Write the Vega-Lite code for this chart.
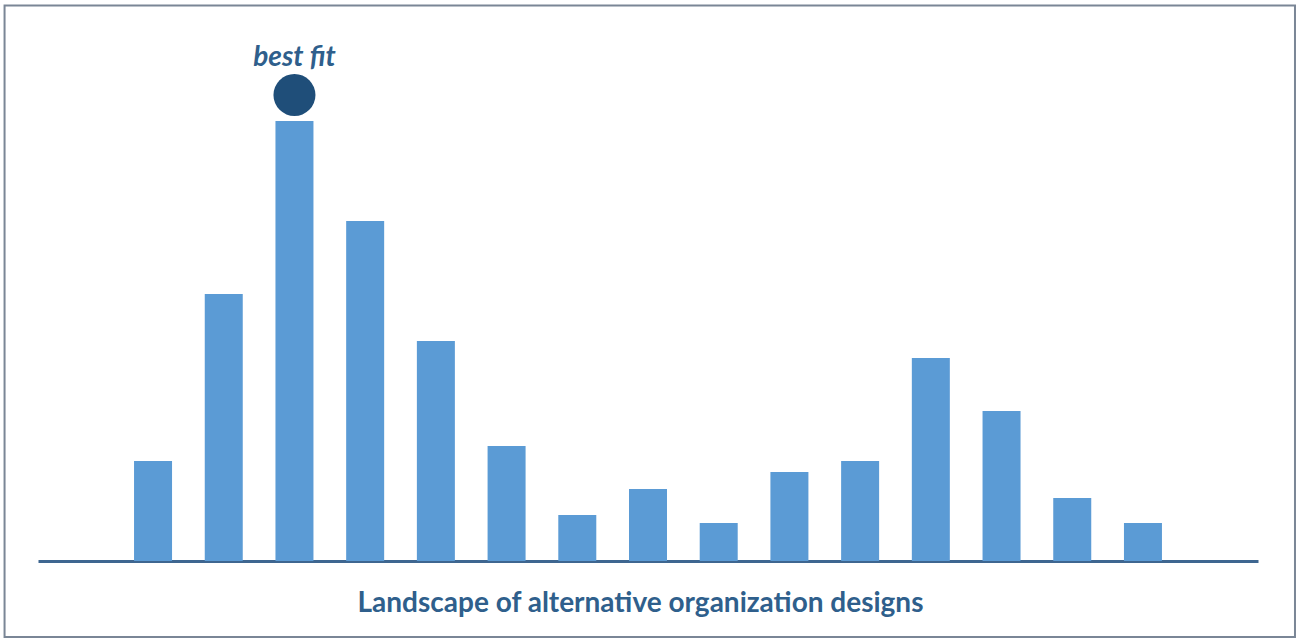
{
  "$schema": "https://vega.github.io/schema/vega-lite/v6.json",
  "width": 1220,
  "height": 520,
  "autosize": {"type": "none"},
  "padding": {"left": 38, "top": 41, "right": 40, "bottom": 78},
  "background": "white",
  "config": {"view": {"stroke": null}},
  "datasets": {
    "designs": [
      {"design": 1, "fit": 100},
      {"design": 2, "fit": 267},
      {"design": 3, "fit": 440},
      {"design": 4, "fit": 340},
      {"design": 5, "fit": 220},
      {"design": 6, "fit": 115},
      {"design": 7, "fit": 46},
      {"design": 8, "fit": 72},
      {"design": 9, "fit": 38},
      {"design": 10, "fit": 89},
      {"design": 11, "fit": 100},
      {"design": 12, "fit": 203},
      {"design": 13, "fit": 150},
      {"design": 14, "fit": 63},
      {"design": 15, "fit": 38}
    ],
    "best": [{"design": 3, "marker": 466, "label": "best fit", "labelPos": 503}]
  },
  "layer": [
    {
      "data": {"name": "designs"},
      "mark": {"type": "bar", "color": "#5B9BD5", "size": 38},
      "encoding": {
        "x": {
          "field": "design",
          "type": "quantitative",
          "scale": {"domain": [-0.627, 16.627], "nice": false, "zero": false, "padding": 0},
          "axis": {
            "title": "Landscape of alternative organization designs",
            "labels": false,
            "ticks": false,
            "grid": false,
            "domainColor": "#3E6690",
            "domainWidth": 3,
            "titleFont": "Lato",
            "titleFontSize": 28,
            "titleFontWeight": "bold",
            "titleColor": "#2F5F8C",
            "titlePadding": 28,
            "titleX": 602,
            "titleAlign": "center"
          }
        },
        "y": {
          "field": "fit",
          "type": "quantitative",
          "scale": {"domain": [0, 520], "nice": false},
          "axis": null
        }
      }
    },
    {
      "data": {"name": "best"},
      "mark": {"type": "point", "filled": true, "shape": "circle", "size": 1764, "color": "#1F4E79", "opacity": 1},
      "encoding": {
        "x": {"field": "design", "type": "quantitative"},
        "y": {"field": "marker", "type": "quantitative"}
      }
    },
    {
      "data": {"name": "best"},
      "mark": {"type": "text", "font": "Lato", "fontSize": 28, "fontWeight": "bold", "fontStyle": "italic", "color": "#2F5F8C", "baseline": "middle", "align": "center", "clip": false},
      "encoding": {
        "x": {"field": "design", "type": "quantitative"},
        "y": {"field": "labelPos", "type": "quantitative"},
        "text": {"field": "label"}
      }
    },
    {
      "data": {"values": [{"x0": -1.1, "x1": 17.15, "y0": -76, "y1": 555.5}]},
      "mark": {"type": "rect", "fill": null, "stroke": "#7A8696", "strokeWidth": 2, "clip": false},
      "encoding": {
        "x": {"field": "x0", "type": "quantitative"},
        "x2": {"field": "x1"},
        "y": {"field": "y0", "type": "quantitative"},
        "y2": {"field": "y1"}
      }
    }
  ]
}
